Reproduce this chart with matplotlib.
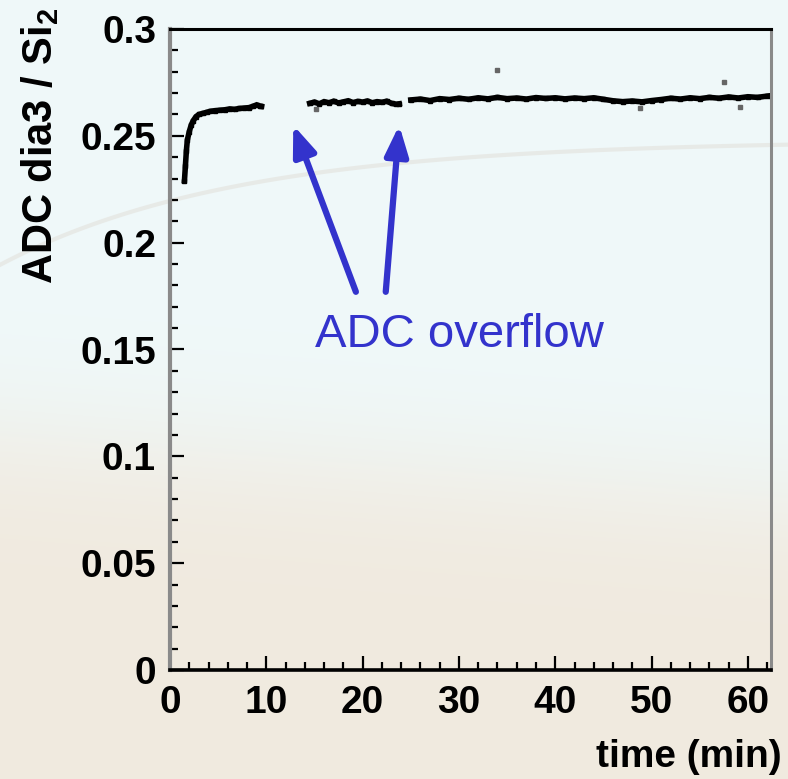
import matplotlib
matplotlib.use("Agg")
import matplotlib.pyplot as plt
import numpy as np
from matplotlib.colors import to_rgb
from matplotlib.ticker import MultipleLocator, FuncFormatter

# --- data ----------------------------------------------------------------
seg1_t = [1.5, 1.6, 1.7, 1.8, 2.0, 2.2, 2.4, 2.7, 3.0, 3.4, 3.8, 4.2, 4.7,
          5.2, 5.7, 6.2, 6.7, 7.2, 7.7, 8.2, 8.6, 9.0, 9.3, 9.5]
seg1_v = [0.229, 0.236, 0.243, 0.248, 0.252, 0.255, 0.257, 0.259, 0.260,
          0.2605, 0.2610, 0.2615, 0.2618, 0.2620, 0.2622, 0.2626, 0.2624,
          0.2628, 0.2630, 0.2632, 0.2638, 0.2645, 0.2640, 0.2638]

seg2_t = [14.5, 15.0, 15.5, 16.0, 16.5, 17.0, 17.5, 18.0, 18.5, 19.0, 19.5,
          20.0, 20.5, 21.0, 21.5, 22.0, 22.5, 23.0, 23.5, 23.8]
seg2_v = [0.2652, 0.2658, 0.2650, 0.2660, 0.2655, 0.2662, 0.2654, 0.2659,
          0.2664, 0.2656, 0.2661, 0.2658, 0.2663, 0.2655, 0.2660, 0.2657,
          0.2662, 0.2652, 0.2648, 0.2650]

seg3_t = [25, 26, 27, 28, 29, 30, 31, 32, 33, 34, 35, 36, 37, 38, 39, 40,
          41, 42, 43, 44, 45, 46, 47, 48, 49, 50, 51, 52, 53, 54, 55, 56,
          57, 58, 59, 60, 61, 62, 62.4]
seg3_v = [0.2668, 0.2672, 0.2665, 0.2674, 0.2670, 0.2676, 0.2671, 0.2678,
          0.2673, 0.2680, 0.2674, 0.2677, 0.2672, 0.2679, 0.2675, 0.2678,
          0.2673, 0.2677, 0.2674, 0.2678, 0.2671, 0.2664, 0.2660, 0.2663,
          0.2659, 0.2665, 0.2670, 0.2676, 0.2672, 0.2678, 0.2674, 0.2680,
          0.2676, 0.2682, 0.2677, 0.2683, 0.2680, 0.2686, 0.2688]

stray_t = [15.2, 33.9, 48.8, 57.5, 59.2]
stray_v = [0.2625, 0.2810, 0.2630, 0.2750, 0.2634]

x_ticks = [0, 10, 20, 30, 40, 50, 60]
y_ticks = [0, 0.05, 0.1, 0.15, 0.2, 0.25, 0.3]

# arrows: (tail_t, tail_v) -> (tip_t, tip_v)
arrow_tails = [(19.3, 0.177), (22.4, 0.177)]
arrow_tips = [(12.8, 0.255), (23.8, 0.255)]

BLUE = "#3333cc"
FONT = "Liberation Sans"

plt.rcParams.update({
    "mathtext.fontset": "custom",
    "mathtext.rm": "Liberation Sans:bold",
    "mathtext.bf": "Liberation Sans:bold",
    "mathtext.it": "Liberation Sans:bold",
})

W, H = 788, 779
fig = plt.figure(figsize=(W / 100, H / 100), dpi=100)

# slide background: pale cyan on top fading into beige below
bg = fig.add_axes([0, 0, 1, 1], zorder=-10)
rows = np.linspace(0, 1, 200)[:, None]
cols = np.linspace(0, 1, 200)[None, :]
edge = 0.56 + 0.08 * cols
mix = 1 / (1 + np.exp(-(rows - edge) / 0.05))
top_c = np.array(to_rgb("#eff9fa"))
bot_c = np.array(to_rgb("#f1eadf"))
img = top_c * (1 - mix[..., None]) + bot_c * mix[..., None]
bg.imshow(img, extent=[0, 1, 1, 0], aspect="auto", interpolation="bilinear")
arc_x = np.linspace(0, 1, 100)
bg.plot(arc_x, 0.18 + 0.16 * np.exp(-arc_x / 0.3),
        color="#e6e7e3", lw=3, alpha=0.8)
bg.set_xlim(0, 1)
bg.set_ylim(1, 0)
bg.axis("off")

ax = fig.add_axes([170 / W, 1 - 670 / H, 601 / W, 641 / H])
ax.patch.set_alpha(0)

for t, v in ((seg1_t, seg1_v), (seg2_t, seg2_v), (seg3_t, seg3_v)):
    ax.plot(t, v, color="black", lw=4.0, marker="s", ms=3.5, mec="black",
            solid_joinstyle="miter")
ax.plot(stray_t, stray_v, ls="none", marker="s", ms=2.5, color="#666666")

ax.set_xlim(0, 62.4)
ax.set_ylim(0, 0.3)
ax.set_xticks(x_ticks)
ax.set_yticks(y_ticks)
ax.xaxis.set_minor_locator(MultipleLocator(2))
ax.yaxis.set_minor_locator(MultipleLocator(0.01))
ax.yaxis.set_major_formatter(FuncFormatter(lambda v, _: f"{v:g}"))
ax.tick_params(which="both", direction="in", color="black", width=1.6)
ax.tick_params(which="major", length=10)
ax.tick_params(which="minor", length=6)
ax.tick_params(axis="x", pad=11)
ax.tick_params(axis="y", pad=10)
for lab in ax.get_xticklabels() + ax.get_yticklabels():
    lab.set_fontfamily(FONT)
    lab.set_fontweight("bold")
    lab.set_fontsize(28)

ax.spines["left"].set_color("#8a8a8a")
ax.spines["left"].set_linewidth(3)
ax.spines["right"].set_color("#8a8a8a")
ax.spines["right"].set_linewidth(2.2)
ax.spines["top"].set_linewidth(2.2)
ax.spines["bottom"].set_linewidth(2.6)

for (tx, ty), (hx, hy) in zip(arrow_tails, arrow_tips):
    ax.annotate("", xy=(hx, hy), xytext=(tx, ty),
                arrowprops=dict(arrowstyle="-|>,head_length=0.9,head_width=0.35",
                                lw=4.5, color=BLUE, mutation_scale=20,
                                shrinkA=0, shrinkB=0))
ax.text(15.06, 0.151, "ADC overflow", color=BLUE, fontsize=34,
        family=FONT, ha="left", va="baseline")

fig.text(782 / W, 1 - 767 / H, "time (min)", fontsize=28, fontweight="bold",
         family=FONT, ha="right", va="baseline")
fig.text(40 / W, 1 - 8 / H, r"ADC dia3 / Si$\mathbf{_2}$", fontsize=30,
         fontweight="bold", family=FONT, rotation=90, ha="center", va="top")

fig.savefig("out.png", dpi=100)
